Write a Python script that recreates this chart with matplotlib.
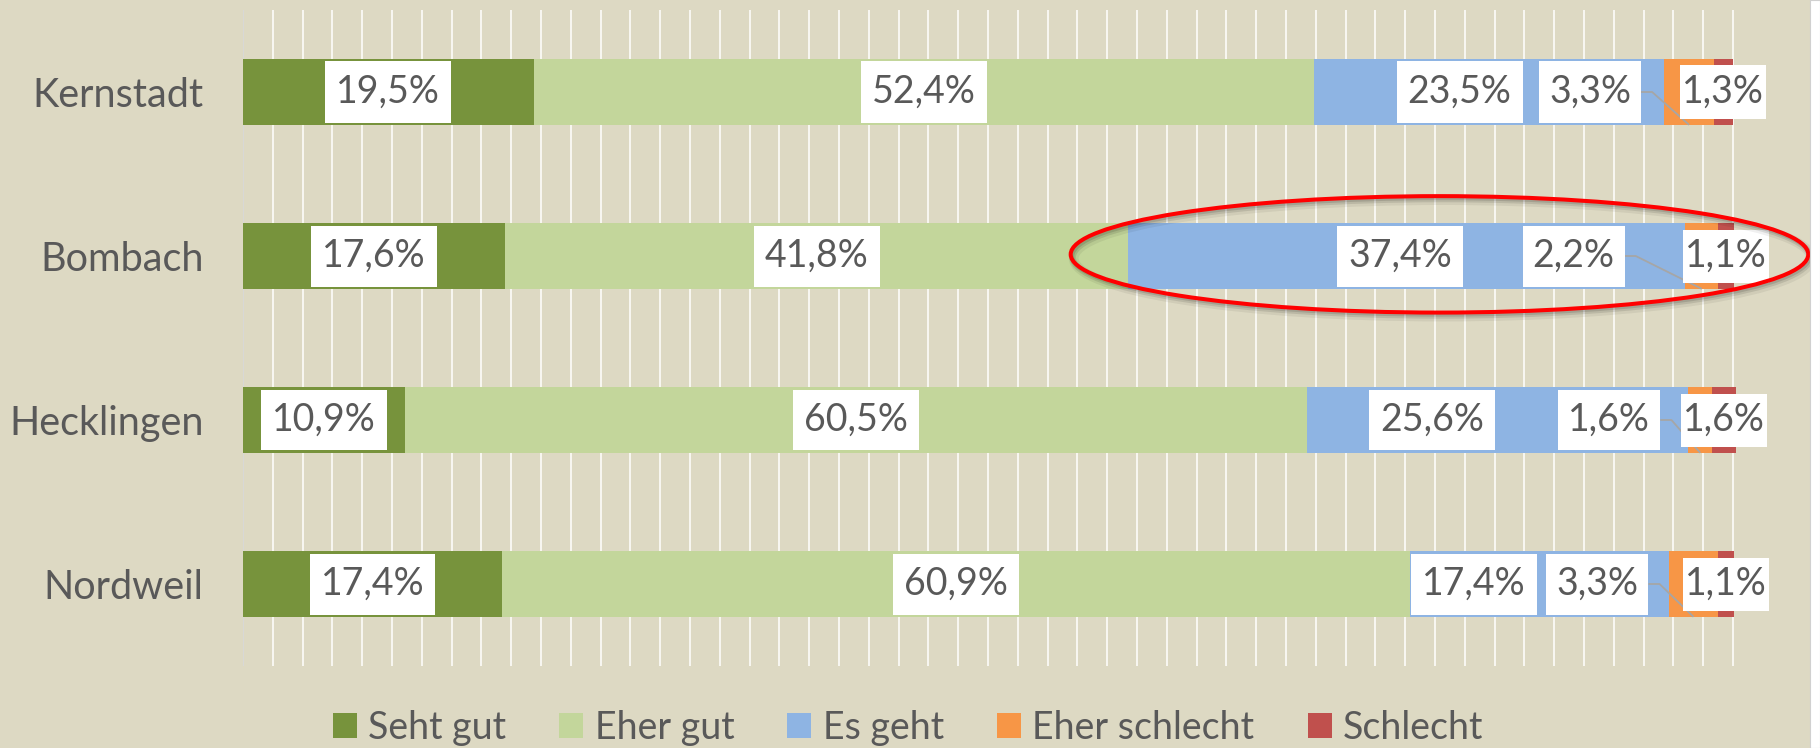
import matplotlib.pyplot as plt
import matplotlib.transforms as mtransforms
from matplotlib.patches import Patch, Rectangle, Ellipse
import numpy as np

# Daten
orte = ['Kernstadt', 'Bombach', 'Hecklingen', 'Nordweil']
kategorien = ['Seht gut', 'Eher gut', 'Es geht', 'Eher schlecht', 'Schlecht']
seht_gut = [19.5, 17.6, 10.9, 17.4]
eher_gut = [52.4, 41.8, 60.5, 60.9]
es_geht = [23.5, 37.4, 25.6, 17.4]
eher_schlecht = [3.3, 2.2, 1.6, 3.3]
schlecht = [1.3, 1.1, 1.6, 1.1]

farben = ['#77933C', '#C3D69B', '#8EB4E3', '#F79646', '#C0504D']
hintergrund = '#DDD9C3'
textfarbe = '#595959'

# Lage der Beschriftungen (wie im Original verschoben)
es_geht_versatz = [-2.0, -0.45, -4.4, -4.4]
eher_schlecht_label_x = [90.4, 89.3, 91.7, 90.9]

plt.rcParams['font.family'] = ['Lato', 'DejaVu Sans']
FS = 27

fig = plt.figure(figsize=(18.2, 7.48), dpi=100)
fig.patch.set_facecolor(hintergrund)
ax = fig.add_axes([243 / 1820, 1 - 666 / 748, (1810 - 243) / 1820, 656 / 748])
ax.set_facecolor(hintergrund)

reihen = [seht_gut, eher_gut, es_geht, eher_schlecht, schlecht]
y = np.arange(len(orte))
links = np.zeros(len(orte))
starts = []
for werte, farbe, name in zip(reihen, farben, kategorien):
    ax.barh(y, werte, left=links, height=0.4, color=farbe, label=name, zorder=2)
    starts.append(links.copy())
    links = links + np.array(werte)

ax.set_xlim(0, (1810 - 243) / 14.9)
ax.set_ylim(3.5, -0.5)
ax.set_xticks(np.arange(0, 101, 2))
ax.set_xticklabels([])
ax.grid(axis='x', color='white', linewidth=1.1, zorder=0)
ax.axvline(0, color='#CFCFCF', linewidth=1.1, zorder=1)
ax.set_axisbelow(True)
ax.set_yticks(y)
ax.set_yticklabels(orte, fontsize=28.5, color=textfarbe)
ax.tick_params(left=False, bottom=False, pad=25)
for s in ax.spines.values():
    s.set_visible(False)


def fmt(v):
    return f'{v:.1f}'.replace('.', ',') + '%'


# Texte setzen: (text, pad_x px, box_h px)
labels = []
for i in range(len(orte)):
    for k in range(3):
        xc = starts[k][i] + reihen[k][i] / 2
        if k == 2:
            xc += es_geht_versatz[i]
        t = ax.text(xc, i, fmt(reihen[k][i]), ha='center', va='center',
                    fontsize=FS, color=textfarbe, zorder=5)
        labels.append((t, 11, 61, i, None))
    t = ax.text(eher_schlecht_label_x[i], i, fmt(eher_schlecht[i]), ha='center', va='center',
                fontsize=FS, color=textfarbe, zorder=5)
    labels.append((t, 10, 61, i, starts[3][i] + eher_schlecht[i] / 2))
    xc = starts[4][i] + schlecht[i] / 2
    t = ax.text(xc, i, fmt(schlecht[i]), ha='center', va='center',
                fontsize=FS, color=textfarbe, zorder=5)
    labels.append((t, 2, 53, i, None))

fig.canvas.draw()
r = fig.canvas.get_renderer()
inv = ax.transData.inverted()
for t, padx, boxh, i, ziel in labels:
    bb = t.get_window_extent(r)
    cy = ax.transData.transform((0, i))[1]
    (x0, y0) = inv.transform((bb.x0 - padx, cy - boxh / 2))
    (x1, y1) = inv.transform((bb.x1 + padx, cy + boxh / 2))
    ax.add_patch(Rectangle((x0, y0), x1 - x0, y1 - y0, facecolor='white',
                           edgecolor='none', zorder=4))
    if ziel is not None:
        ax.plot([x1, x1 + 0.75, ziel], [i, i, i + 0.2], color='#A6A6A6',
                linewidth=1.3, zorder=3, solid_capstyle='butt')

# Rote Ellipse mit Schatten
for dx, dy, lw, a in [(3, -4, 7, 0.06), (2, -3, 4.5, 0.10), (1.5, -2, 3, 0.12)]:
    tr = mtransforms.offset_copy(ax.transData, fig=fig, x=dx, y=dy, units='dots')
    ax.add_patch(Ellipse((80.3, 0.99), 49.5, 0.71, fill=False, edgecolor='black',
                         alpha=a, linewidth=lw, transform=tr, zorder=6, clip_on=False))
ax.add_patch(Ellipse((80.3, 0.99), 49.5, 0.71, fill=False, edgecolor='#FF0000',
                     linewidth=2.9, zorder=7, clip_on=False))

# Legende
handles = [Patch(facecolor=f, edgecolor='none') for f in farben]
fig.legend(handles, kategorien, loc='center', bbox_to_anchor=(908 / 1820, 1 - 728 / 748),
           ncol=5, frameon=False, fontsize=FS, labelcolor=textfarbe,
           handlelength=0.64, handleheight=0.64, handletextpad=0.3, columnspacing=1.42)

# weißer Rand rechts
fig.patches.append(Rectangle((1810 / 1820, 0), 10 / 1820, 1, transform=fig.transFigure,
                             facecolor='white', edgecolor='#D0D0D0', linewidth=0.8))

plt.savefig('out.png', dpi=100, facecolor=fig.get_facecolor())
